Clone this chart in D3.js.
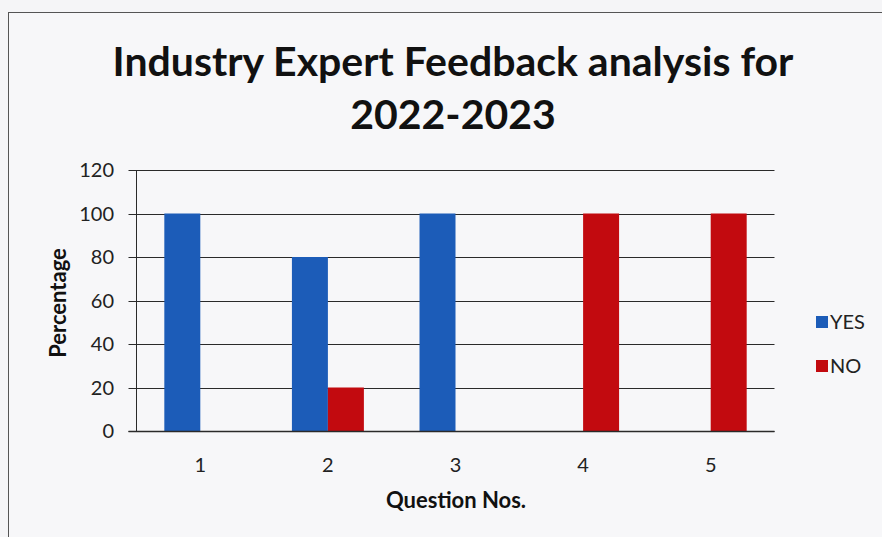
<!DOCTYPE html>
<html><head><meta charset="utf-8">
<script src="https://cdn.jsdelivr.net/npm/d3@7"></script>
<style>
html,body{margin:0;padding:0;background:#f5f5f7;}
svg{display:block;font-family:Lato,"Open Sans",sans-serif;}
</style></head>
<body>
<svg id="chart" width="882" height="537"></svg>
<script>
const categories = ["1","2","3","4","5"];
const seriesNames = ["YES","NO"];
const yesValues = [100, 80, 100, 0, 0];
const noValues = [0, 20, 0, 100, 100];
const yTicks = [0, 20, 40, 60, 80, 100, 120];
const titleLines = ["Industry Expert Feedback analysis for", "2022-2023"];
const colors = ["#1c5cb8", "#c20a0f"];

(function () {
const svg = d3.select("#chart");
svg.append("rect").attr("x", 8.5).attr("y", 12.5).attr("width", 890).attr("height", 540)
  .attr("fill", "#f7f7f9").attr("stroke", "#555").attr("stroke-width", 1);

const pLeft = 136.5, pRight = 774.5, pTop = 170, pBottom = 431;
const x0 = d3.scaleBand().domain(categories).range([pLeft, pRight]).paddingInner(0.436).paddingOuter(0.218);
const x1 = d3.scaleBand().domain(seriesNames).range([0, x0.bandwidth()]);
const y = d3.scaleLinear().domain([0, 120]).range([pBottom, pTop]);

svg.append("g").selectAll("line").data(yTicks).join("line")
  .attr("x1", pLeft - 8).attr("x2", pRight)
  .attr("y1", d => Math.round(y(d)) + 0.5).attr("y2", d => Math.round(y(d)) + 0.5)
  .attr("stroke", "#2a2a2a").attr("stroke-width", 1);

const data = categories.map((c, i) => ({c, vals: [yesValues[i], noValues[i]]}));
const g = svg.append("g");
data.forEach(d => {
  seriesNames.forEach((s, j) => {
    const v = d.vals[j];
    if (v > 0) {
      g.append("rect")
        .attr("x", x0(d.c) + x1(s)).attr("width", x1.bandwidth())
        .attr("y", y(v)).attr("height", y(0) - y(v))
        .attr("fill", colors[j]);
    }
  });
});

svg.append("line").attr("x1", pLeft).attr("x2", pLeft).attr("y1", pTop).attr("y2", pBottom + 0.5)
  .attr("stroke", "#2a2a2a");
svg.append("line").attr("x1", pLeft - 8).attr("x2", pRight).attr("y1", Math.round(y(0)) + 0.5).attr("y2", Math.round(y(0)) + 0.5)
  .attr("stroke", "#2a2a2a").attr("stroke-width", 1.3);

svg.append("g").selectAll("text").data(yTicks).join("text")
  .attr("x", 114).attr("y", d => y(d)).attr("dy", "0.35em")
  .attr("text-anchor", "end").attr("font-size", 20).attr("fill", "#222")
  .text(d => d);

svg.append("g").selectAll("text").data(categories).join("text")
  .attr("x", d => x0(d) + x0.bandwidth() / 2).attr("y", 472)
  .attr("text-anchor", "middle").attr("font-size", 20).attr("fill", "#222")
  .text(d => d);

svg.append("g").selectAll("text").data(titleLines).join("text")
  .attr("x", 453).attr("y", (d, i) => 76 + i * 53)
  .attr("text-anchor", "middle").attr("font-size", 41).attr("font-weight", "bold").attr("fill", "#111")
  .text(d => d);

svg.append("text").attr("transform", "translate(66,303) rotate(-90)")
  .attr("text-anchor", "middle").attr("font-size", 22).attr("font-weight", "bold").attr("fill", "#111")
  .text("Percentage");
svg.append("text").attr("x", 456).attr("y", 508)
  .attr("text-anchor", "middle").attr("font-size", 22).attr("font-weight", "bold").attr("fill", "#111")
  .text("Question Nos.");

const leg = svg.append("g");
seriesNames.forEach((s, i) => {
  const ly = 322 + i * 44;
  leg.append("rect").attr("x", 816).attr("y", ly - 6).attr("width", 12).attr("height", 12).attr("fill", colors[i]);
  leg.append("text").attr("x", 830).attr("y", ly).attr("dy", "0.35em")
    .attr("font-size", 20).attr("fill", "#222").text(s);
});
})();
</script>
</body></html>
